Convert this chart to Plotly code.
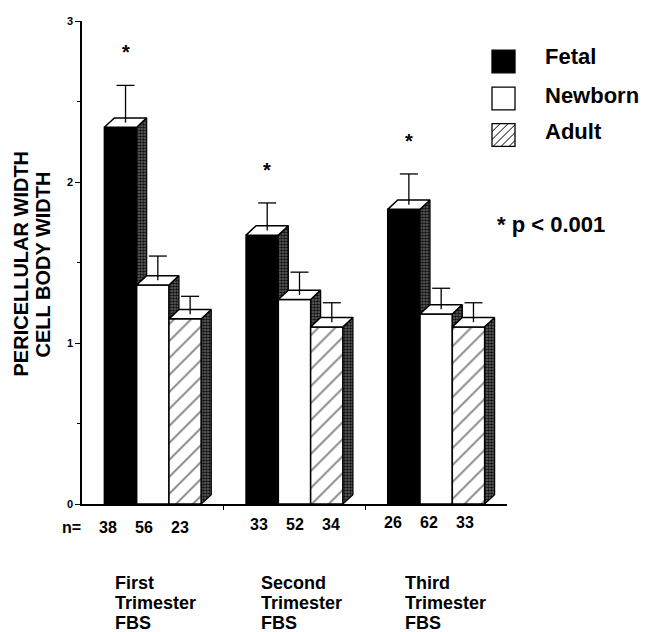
import plotly.graph_objects as go

# ---------------- data ----------------
group_lines = [["First", "Trimester", "FBS"],
               ["Second", "Trimester", "FBS"],
               ["Third", "Trimester", "FBS"]]
series_names = ["Fetal", "Newborn", "Adult"]
fetal = [2.34, 1.67, 1.83]
newborn = [1.36, 1.27, 1.18]
adult = [1.15, 1.10, 1.10]
fetal_sem = [0.26, 0.20, 0.22]
newborn_sem = [0.18, 0.17, 0.16]
adult_sem = [0.14, 0.15, 0.15]
fetal_n = [38, 33, 26]
newborn_n = [56, 52, 62]
adult_n = [23, 34, 33]
fetal_significant = [True, True, True]
y_ticks = [0, 1, 2, 3]
y_minor_ticks = [0.5, 1.5, 2.5]
y_title_lines = ["PERICELLULAR WIDTH", "CELL BODY WIDTH"]
p_note = "* p < 0.001"

values = [fetal, newborn, adult]
sems = [fetal_sem, newborn_sem, adult_sem]
ns = [fetal_n, newborn_n, adult_n]

# ---------------- layout geometry (pixels) ----------------
PAGE_OFF = 8          # the page body adds an 8 px offset
W, H = 648, 632
L, T = 82 - PAGE_OFF, 15 - PAGE_OFF
PW, PH = 425, 489
XR = (-0.5, 2.5)
YR = (0, 3)
ux = PW / (XR[1] - XR[0])
uy = PH / (YR[1] - YR[0])
BAR_W = 32.3 / ux
DX = 10 / ux
DY = 9.5 / uy
CAP = 18 / ux
FONT = "Liberation Sans, Arial, Helvetica, sans-serif"


def pxx(xp):
    # page pixel x -> paper
    return (xp - PAGE_OFF - L) / PW


def pyy(yp):
    # page pixel y -> paper
    return (T + PH - (yp - PAGE_OFF)) / PH


groups_x = list(range(len(fetal)))

fig = go.Figure()

front_styles = [
    dict(color="black", line=dict(color="black", width=1.5)),
    dict(color="white", line=dict(color="black", width=1.5)),
    dict(color="white", line=dict(color="black", width=1.5),
         pattern=dict(shape="/", fgcolor="black", bgcolor="white",
                      size=12, solidity=0.15, fillmode="overlay")),
]

for i, name in enumerate(series_names):
    fig.add_trace(go.Bar(
        x=[g + (i - 1) * BAR_W for g in groups_x],
        y=values[i], width=BAR_W, name=name,
        marker=front_styles[i], showlegend=False, hoverinfo="skip"))

side_pattern = dict(shape=".", fgcolor="#111111", bgcolor="#6a6a6a",
                    size=3, solidity=0.6, fillmode="replace")

for g in groups_x:
    for i in range(len(series_names)):
        v = values[i][g]
        xl = g + (i - 1) * BAR_W - BAR_W / 2
        xr = xl + BAR_W
        bottom = 0.0
        if i + 1 < len(series_names):
            bottom = min(values[i + 1][g], v)
        # side face
        if bottom < v:
            fig.add_trace(go.Scatter(
                x=[xr, xr + DX, xr + DX, xr, xr],
                y=[bottom, bottom + DY, v + DY, v, bottom],
                mode="lines", fill="toself", fillcolor="#4d4d4d",
                fillpattern=side_pattern,
                line=dict(color="black", width=1.2),
                showlegend=False, hoverinfo="skip"))
        # top face
        fig.add_trace(go.Scatter(
            x=[xl, xl + DX, xr + DX, xr, xl],
            y=[v, v + DY, v + DY, v, v],
            mode="lines", fill="toself", fillcolor="white",
            line=dict(color="black", width=1.5),
            showlegend=False, hoverinfo="skip"))
        # error bar (upper only)
        cx = (xl + xr) / 2 + DX / 2
        top = v + sems[i][g]
        fig.add_trace(go.Scatter(
            x=[cx, cx, None, cx - CAP / 2, cx + CAP / 2],
            y=[v + DY / 2, top, None, top, top],
            mode="lines", line=dict(color="black", width=1.3),
            showlegend=False, hoverinfo="skip"))

annotations = []

# significance asterisks
for g in groups_x:
    if fetal_significant[g]:
        annotations.append(dict(
            x=g - BAR_W + DX / 2, y=fetal[g] + fetal_sem[g],
            xref="x", yref="y", text="<b>*</b>", showarrow=False,
            yanchor="middle", yshift=33,
            font=dict(family=FONT, size=20, color="black")))

# n labels
annotations.append(dict(x=pxx(83), y=pyy(538), xref="paper", yref="paper",
                        text="<b>n=</b>", showarrow=False, xanchor="right",
                        font=dict(family=FONT, size=16, color="black")))
n_shift_px = [-9, 0, -7]
n_y_px = [538, 535, 533]
for g in groups_x:
    for i in range(len(series_names)):
        annotations.append(dict(
            x=g + ((i - 1) * 36 + n_shift_px[g]) / ux, xref="x",
            y=pyy(n_y_px[g]), yref="paper",
            text=f"<b>{ns[i][g]}</b>", showarrow=False,
            font=dict(family=FONT, size=16, color="black")))

# category labels
cat_shift_px = [-40, -36, -33]
for g in groups_x:
    for k, line in enumerate(group_lines[g]):
        annotations.append(dict(
            x=g + cat_shift_px[g] / ux, xref="x",
            y=pyy(583.5 + 20.4 * k), yref="paper",
            text=f"<b>{line}</b>", showarrow=False,
            xanchor="left", yanchor="middle",
            font=dict(family=FONT, size=18, color="black")))

# y axis title (two lines)
for k, (xc, yc) in enumerate([(20.5, 261), (42.5, 262)]):
    annotations.append(dict(
        x=pxx(xc), y=pyy(yc), xref="paper", yref="paper",
        text=f"<b>{y_title_lines[k]}</b>", textangle=-90, showarrow=False,
        xanchor="center", yanchor="middle",
        font=dict(family=FONT, size=20, color="black")))

# legend
shapes = []
legend_rows = [(56, 51), (93.5, 90), (130.5, 126.5)]
BOX = 23
bx0 = 492
for i, name in enumerate(series_names):
    bc, tc = legend_rows[i]
    y0p, y1p = bc - BOX / 2, bc + BOX / 2
    fill = "black" if i == 0 else "white"
    shapes.append(dict(type="rect", xref="paper", yref="paper",
                       x0=pxx(bx0), x1=pxx(bx0 + BOX),
                       y0=pyy(y1p), y1=pyy(y0p),
                       fillcolor=fill, line=dict(color="black", width=1.3)))
    if i == 2:
        step = 8
        c = bx0 + y0p + step
        while c < bx0 + BOX + y1p:
            xa = max(bx0, c - y1p)
            xb = min(bx0 + BOX, c - y0p)
            shapes.append(dict(type="line", xref="paper", yref="paper",
                               x0=pxx(xa), y0=pyy(c - xa),
                               x1=pxx(xb), y1=pyy(c - xb),
                               line=dict(color="black", width=1)))
            c += step
    annotations.append(dict(
        x=pxx(543), y=pyy(tc), xref="paper", yref="paper",
        text=f"<b>{name}</b>", showarrow=False,
        xanchor="left", yanchor="middle",
        font=dict(family=FONT, size=22, color="black")))

annotations.append(dict(
    x=pxx(495), y=pyy(221), xref="paper", yref="paper",
    text=f"<b>{p_note}</b>", showarrow=False,
    xanchor="left", yanchor="middle",
    font=dict(family=FONT, size=22, color="black")))

fig.update_layout(
    width=W, height=H,
    margin=dict(l=L, r=W - L - PW, t=T, b=H - T - PH, pad=0),
    paper_bgcolor="white", plot_bgcolor="white",
    barmode="overlay", showlegend=False,
    font=dict(family=FONT, color="black"),
    xaxis=dict(range=list(XR), showgrid=False, zeroline=False,
               showline=True, linecolor="black", linewidth=1.5,
               tickvals=[0.5, 1.5], ticks="outside", ticklen=4,
               tickcolor="black", tickwidth=1, showticklabels=False),
    yaxis=dict(range=list(YR), showgrid=False, zeroline=False,
               showline=True, linecolor="black", linewidth=1.5,
               tickvals=y_ticks, ticktext=[f"<b>{t}</b>" for t in y_ticks],
               ticks="outside", ticklen=5, tickcolor="black", tickwidth=1.2,
               tickfont=dict(family=FONT, size=11, color="black"),
               minor=dict(tickvals=y_minor_ticks, ticks="outside", ticklen=3,
                          tickcolor="black", tickwidth=1)),
    annotations=annotations, shapes=shapes,
)

fig.write_html("out.html")
